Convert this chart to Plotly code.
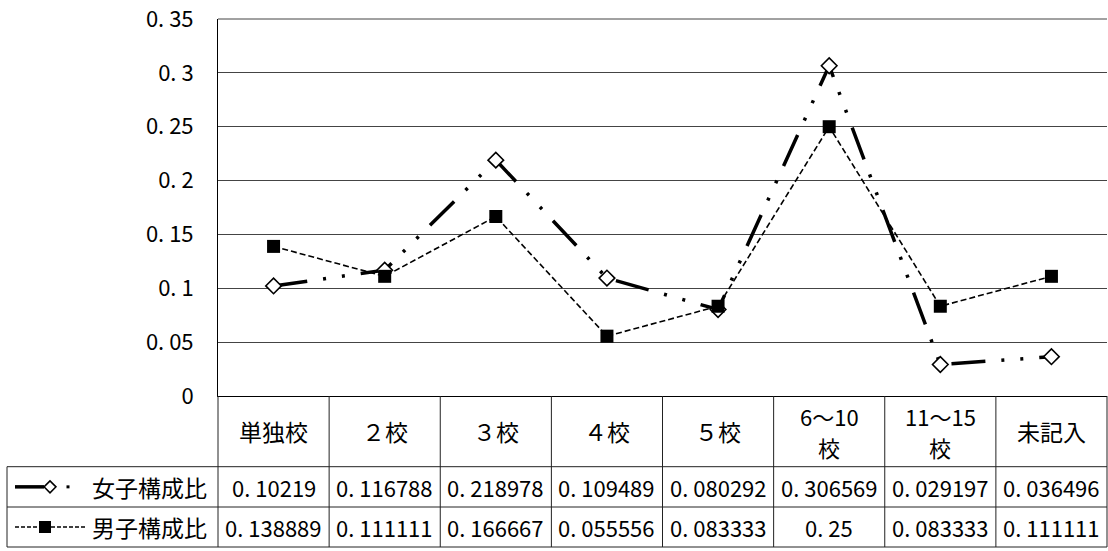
import plotly.graph_objects as go

categories = ["単独校", "２校", "３校", "４校", "５校", "6～10<br>校", "11～15<br>校", "未記入"]
female_name = "女子構成比"
male_name = "男子構成比"
female = [0.10219, 0.116788, 0.218978, 0.109489, 0.080292, 0.306569, 0.029197, 0.036496]
male = [0.138889, 0.111111, 0.166667, 0.055556, 0.083333, 0.25, 0.083333, 0.111111]
ytick_vals = [0, 0.05, 0.1, 0.15, 0.2, 0.25, 0.3, 0.35]
ytick_text = ["0", "0. 05", "0. 1", "0. 15", "0. 2", "0. 25", "0. 3", "0. 35"]

W, H = 1108, 551
L, R, T, B = 218, 1107, 19, 396
FONT = "Noto Sans CJK JP"
NUM_SIZE = 22
CJK_SIZE = 23


def px(x):
    return (x - L) / (R - L)


def py(y):
    return (B - y) / (B - T)


def fmt(v):
    return f"{v:g}".replace(".", ". ")


xs = list(range(len(categories)))

fig = go.Figure()
fig.add_trace(go.Scatter(
    x=xs, y=female, name=female_name, mode="lines+markers",
    line=dict(color="black", width=3.5, dash="34px,16px,3px,16px,3px,16px"),
    marker=dict(symbol="diamond", size=12, color="white",
                line=dict(color="black", width=1.6)),
))
fig.add_trace(go.Scatter(
    x=xs, y=male, name=male_name, mode="lines+markers",
    line=dict(color="black", width=1.6, dash="6px,3px"),
    marker=dict(symbol="square", size=13, color="black",
                line=dict(color="black", width=0)),
))

shapes = []
line_col = "#222222"
row_y = [466.7, 507, 547]
for yy in row_y:
    shapes.append(dict(type="line", xref="paper", yref="paper",
                       x0=px(7), x1=px(R), y0=py(yy), y1=py(yy),
                       line=dict(color=line_col, width=1)))
shapes.append(dict(type="line", xref="paper", yref="paper",
                   x0=px(7), x1=px(7), y0=py(row_y[0]), y1=py(row_y[-1]),
                   line=dict(color=line_col, width=1)))
ncat = len(categories)
for k in range(ncat + 1):
    xx = L + k * (R - L) / ncat
    shapes.append(dict(type="line", xref="paper", yref="paper",
                       x0=px(xx), x1=px(xx), y0=py(B), y1=py(row_y[-1]),
                       line=dict(color=line_col, width=1)))
shapes.append(dict(type="line", xref="paper", yref="paper",
                   x0=0, x1=1, y0=1, y1=1, line=dict(color="#444444", width=1)))

fy = (row_y[0] + row_y[1]) / 2
my = (row_y[1] + row_y[2]) / 2
shapes.append(dict(type="line", xref="paper", yref="paper",
                   x0=px(15), x1=px(44), y0=py(fy), y1=py(fy),
                   line=dict(color="black", width=3.5)))
shapes.append(dict(type="path", xref="paper", yref="paper",
                   path=(f"M {px(44)} {py(fy)} L {px(50)} {py(fy - 6)} "
                         f"L {px(56)} {py(fy)} L {px(50)} {py(fy + 6)} Z"),
                   fillcolor="white", line=dict(color="black", width=1.5)))
shapes.append(dict(type="rect", xref="paper", yref="paper",
                   x0=px(66.5), x1=px(69.5), y0=py(fy - 1.5), y1=py(fy + 1.5),
                   fillcolor="black", line=dict(width=0)))
shapes.append(dict(type="line", xref="paper", yref="paper",
                   x0=px(15), x1=px(85), y0=py(my), y1=py(my),
                   line=dict(color="black", width=1.4, dash="4px,2px")))
shapes.append(dict(type="rect", xref="paper", yref="paper",
                   x0=px(39), x1=px(51), y0=py(my - 6), y1=py(my + 6),
                   fillcolor="black", line=dict(width=0)))

annotations = []
hy = (B + row_y[0]) / 2
for i, c in enumerate(categories):
    parts = c.split("<br>")
    if len(parts) == 1:
        annotations.append(dict(x=i, xref="x", y=py(hy), yref="paper", text=c,
                                showarrow=False, xanchor="center", yanchor="middle",
                                font=dict(family=FONT, size=CJK_SIZE, color="black")))
    else:
        for j, part in enumerate(parts):
            yy = hy - 15.5 + 31 * j
            annotations.append(dict(x=i, xref="x", y=py(yy), yref="paper", text=part,
                                    showarrow=False, xanchor="center", yanchor="middle",
                                    font=dict(family=FONT, size=22, color="black")))
    annotations.append(dict(x=i, xref="x", y=py(fy), yref="paper", text=fmt(female[i]),
                            showarrow=False, xanchor="center", yanchor="middle",
                            font=dict(family=FONT, size=NUM_SIZE, color="black")))
    annotations.append(dict(x=i, xref="x", y=py(my), yref="paper", text=fmt(male[i]),
                            showarrow=False, xanchor="center", yanchor="middle",
                            font=dict(family=FONT, size=NUM_SIZE, color="black")))
annotations.append(dict(x=px(209), xref="paper", y=py(fy), yref="paper", text=female_name,
                        showarrow=False, xanchor="right", yanchor="middle",
                        font=dict(family=FONT, size=CJK_SIZE, color="black")))
annotations.append(dict(x=px(209), xref="paper", y=py(my), yref="paper", text=male_name,
                        showarrow=False, xanchor="right", yanchor="middle",
                        font=dict(family=FONT, size=CJK_SIZE, color="black")))

fig.update_layout(
    width=W, height=H,
    margin=dict(l=L, r=W - R, t=T, b=H - B, pad=0),
    paper_bgcolor="white", plot_bgcolor="white",
    showlegend=False,
    font=dict(family=FONT, color="black"),
    xaxis=dict(range=[-0.5, ncat - 0.5], showticklabels=False, showgrid=False,
               zeroline=False, showline=True, linecolor="black", linewidth=1,
               ticks=""),
    yaxis=dict(range=[0, 0.35], tickvals=ytick_vals, ticktext=ytick_text,
               showgrid=True, gridcolor="#444444", gridwidth=1, zeroline=False,
               showline=True, linecolor="black", linewidth=1, ticks="",
               ticklabelstandoff=19,
               tickfont=dict(family=FONT, size=NUM_SIZE, color="black")),
    shapes=shapes,
    annotations=annotations,
)

fig.write_html("out.html", config={"displayModeBar": False},
               post_script="document.body.style.margin='0';document.body.style.padding='0';")
